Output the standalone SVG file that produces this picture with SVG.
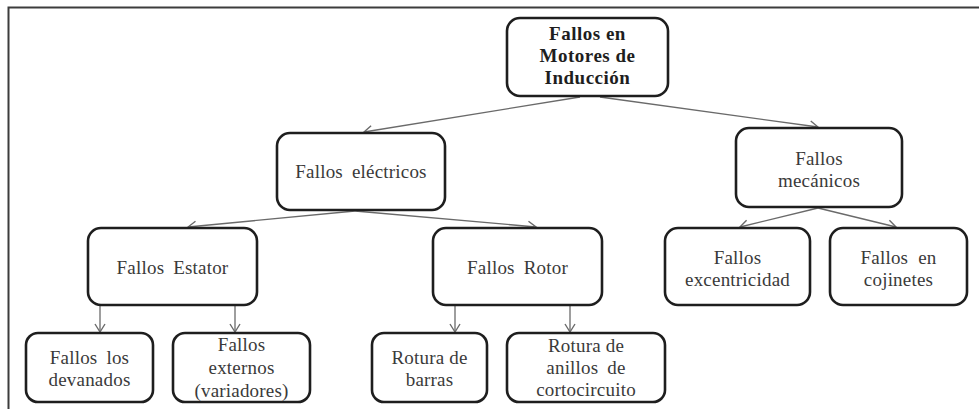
<svg xmlns="http://www.w3.org/2000/svg" width="979" height="409" viewBox="0 0 979 409">
<defs>
<marker id="ah" markerWidth="12" markerHeight="12" refX="10" refY="6" orient="auto" markerUnits="userSpaceOnUse">
<path d="M2,1 L10,6 L2,11" fill="none" stroke="#6a6a6a" stroke-width="1.4"/>
</marker>
</defs>
<rect x="0" y="0" width="979" height="409" fill="#fff"/>
<path d="M8.5,409 V7.5 H979" fill="none" stroke="#3c3c3c" stroke-width="2"/>
<g id="connectors" stroke="#6a6a6a" stroke-width="1.3" fill="none">
<line x1="580" y1="97" x2="364" y2="132" marker-end="url(#ah)"/>
<line x1="600" y1="97" x2="818" y2="127" marker-end="url(#ah)"/>
<line x1="355" y1="211" x2="188" y2="227" marker-end="url(#ah)"/>
<line x1="355" y1="211" x2="536" y2="227" marker-end="url(#ah)"/>
<line x1="818" y1="208" x2="740" y2="227" marker-end="url(#ah)"/>
<line x1="818" y1="208" x2="896" y2="227" marker-end="url(#ah)"/>
<line x1="100" y1="306" x2="100" y2="332" marker-end="url(#ah)"/>
<line x1="235" y1="306" x2="235" y2="332" marker-end="url(#ah)"/>
<line x1="455" y1="306" x2="455" y2="332" marker-end="url(#ah)"/>
<line x1="570" y1="306" x2="570" y2="332" marker-end="url(#ah)"/>
</g>
<g text-anchor="middle" font-family="Times New Roman, Liberation Serif, serif" font-size="19" fill="#3a3a3a" letter-spacing="0.2">
<g id="root">
<rect x="507" y="18" width="161" height="78" rx="13" fill="#fff" stroke="#1e1e1e" stroke-width="2.6"/>
<text x="587.5" y="40" font-weight="bold" fill="#1e1e1e" letter-spacing="0.5">Fallos en</text>
<text x="587.5" y="62" font-weight="bold" fill="#1e1e1e" letter-spacing="0.5">Motores de</text>
<text x="587.5" y="84" font-weight="bold" fill="#1e1e1e" letter-spacing="0.5">Inducción</text>
</g>
<g id="electricos">
<rect x="277" y="133" width="168" height="77" rx="13" fill="#fff" stroke="#1e1e1e" stroke-width="2.6"/>
<text x="361" y="178" word-spacing="4">Fallos eléctricos</text>
</g>
<g id="mecanicos">
<rect x="736" y="128" width="166" height="79" rx="13" fill="#fff" stroke="#1e1e1e" stroke-width="2.6"/>
<text x="819" y="165">Fallos</text>
<text x="819" y="187">mecánicos</text>
</g>
<g id="estator">
<rect x="88" y="228" width="169" height="77" rx="13" fill="#fff" stroke="#1e1e1e" stroke-width="2.6"/>
<text x="172.5" y="274" word-spacing="4">Fallos Estator</text>
</g>
<g id="rotor">
<rect x="433" y="228" width="169" height="77" rx="13" fill="#fff" stroke="#1e1e1e" stroke-width="2.6"/>
<text x="517.5" y="274" word-spacing="4">Fallos Rotor</text>
</g>
<g id="excentricidad">
<rect x="665" y="228" width="145" height="77" rx="13" fill="#fff" stroke="#1e1e1e" stroke-width="2.6"/>
<text x="737.5" y="264">Fallos</text>
<text x="737.5" y="286">excentricidad</text>
</g>
<g id="cojinetes">
<rect x="830" y="228" width="137" height="77" rx="13" fill="#fff" stroke="#1e1e1e" stroke-width="2.6"/>
<text x="898.5" y="264" word-spacing="5">Fallos en</text>
<text x="898.5" y="286">cojinetes</text>
</g>
<g id="devanados">
<rect x="26" y="333" width="127" height="69" rx="12" fill="#fff" stroke="#1e1e1e" stroke-width="2.6"/>
<text x="89.5" y="364" word-spacing="4">Fallos los</text>
<text x="89.5" y="386">devanados</text>
</g>
<g id="externos">
<rect x="173" y="333" width="137" height="69" rx="12" fill="#fff" stroke="#1e1e1e" stroke-width="2.6"/>
<text x="241.5" y="351">Fallos</text>
<text x="241.5" y="374">externos</text>
<text x="241.5" y="397">(variadores)</text>
</g>
<g id="barras">
<rect x="372" y="333" width="115" height="69" rx="12" fill="#fff" stroke="#1e1e1e" stroke-width="2.6"/>
<text x="429.5" y="364">Rotura de</text>
<text x="429.5" y="386">barras</text>
</g>
<g id="anillos">
<rect x="507" y="333" width="158" height="69" rx="12" fill="#fff" stroke="#1e1e1e" stroke-width="2.6"/>
<text x="586" y="352">Rotura de</text>
<text x="586" y="374" word-spacing="4">anillos de</text>
<text x="586" y="396">cortocircuito</text>
</g>
</g>
</svg>
